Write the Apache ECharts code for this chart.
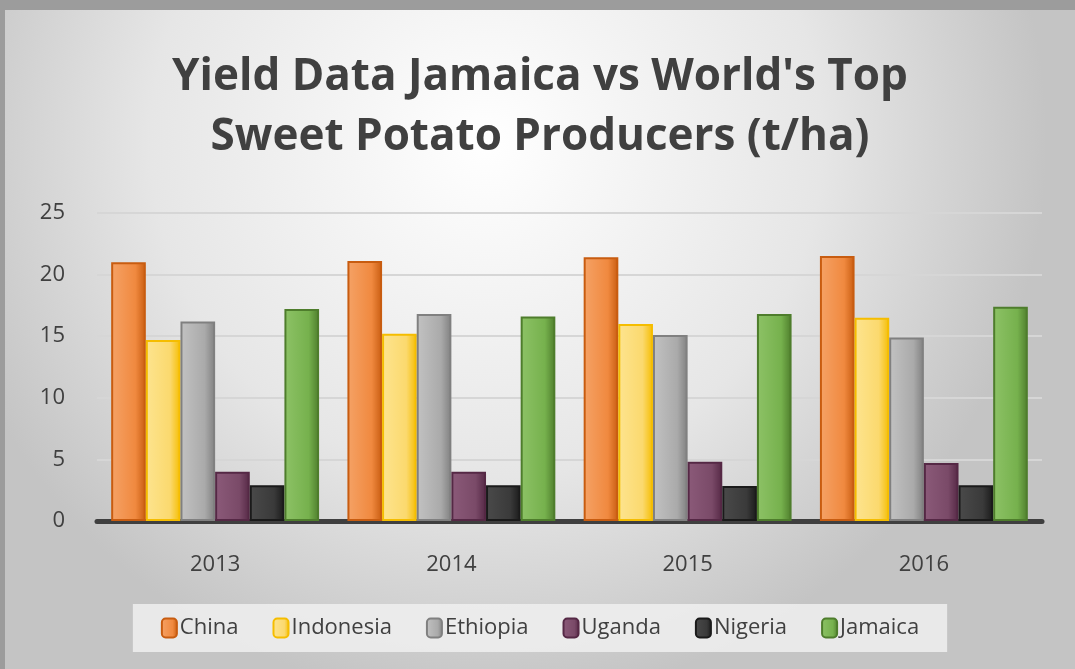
<!DOCTYPE html>
<html>
<head>
<meta charset="utf-8">
<script src="https://cdn.jsdelivr.net/npm/echarts@6/dist/echarts.min.js"></script>
<style>
  html, body { margin: 0; padding: 0; background: #9c9c9c; }
  #frame { position: absolute; left: 5px; top: 10px; width: 1070px; height: 659px; }
  #chart { width: 100%; height: 100%; }
</style>
</head>
<body>
<div id="frame"><div id="chart"></div></div>
<script>
const years = ['2013', '2014', '2015', '2016']
const yTicks = [0, 5, 10, 15, 20, 25]

const china = [21.0, 21.1, 21.4, 21.5]
const indonesia = [14.7, 15.2, 16.0, 16.5]
const ethiopia = [16.2, 16.8, 15.1, 14.9]
const uganda = [4.0, 4.0, 4.8, 4.7]
const nigeria = [2.9, 2.9, 2.85, 2.9]
const jamaica = [17.2, 16.6, 16.8, 17.4]

const seriesList = [
  { name: 'China', data: china, color: '#f0893f', light: '#f5a266', border: '#c85c10' },
  { name: 'Indonesia', data: indonesia, color: '#fbd96e', light: '#fde48f', border: '#f5bd00' },
  { name: 'Ethiopia', data: ethiopia, color: '#aaaaaa', light: '#c2c2c2', border: '#808080' },
  { name: 'Uganda', data: uganda, color: '#7a4a68', light: '#8b5a79', border: '#552845' },
  { name: 'Nigeria', data: nigeria, color: '#3a3a3a', light: '#4a4a4a', border: '#1a1a1a' },
  { name: 'Jamaica', data: jamaica, color: '#76b14d', light: '#8dc266', border: '#4e7d2c' },
]

const chart = echarts.init(document.getElementById('chart'))

chart.setOption({
  backgroundColor: {
    type: 'radial', x: 0.45, y: 0.2, r: 0.85,
    colorStops: [
      { offset: 0, color: '#ffffff' },
      { offset: 0.6, color: '#e6e6e6' },
      { offset: 1, color: '#c4c4c4' },
    ],
  },
  title: {
    text: "Yield Data Jamaica vs World's Top\nSweet Potato Producers (t/ha)",
    left: 'center',
    top: 32,
    textStyle: {
      fontFamily: 'Open Sans',
      fontWeight: 'bold',
      fontSize: 44,
      lineHeight: 60,
      color: '#404040',
    },
  },
  legend: {
    data: seriesList.map(s => s.name),
    bottom: 17,
    left: 'center',
    padding: [13, 28],
    backgroundColor: 'rgba(240,240,240,0.85)',
    itemWidth: 15,
    itemHeight: 19,
    itemGap: 34,
    textStyle: { fontFamily: 'Open Sans', fontSize: 22, color: '#404040', padding: [0, 0, 0, -2] },
  },
  grid: { left: 92, right: 33, top: 203, bottom: 148 },
  xAxis: {
    type: 'category',
    data: years,
    axisTick: { show: false },
    axisLine: { lineStyle: { color: '#3f3f3f', width: 5 } },
    axisLabel: { fontFamily: 'Open Sans', fontSize: 22, color: '#404040', margin: 33 },
  },
  yAxis: {
    type: 'value',
    min: yTicks[0],
    max: yTicks[yTicks.length - 1],
    interval: 5,
    axisLabel: { fontFamily: 'Open Sans', fontSize: 22, color: '#404040', margin: 32 },
    splitLine: { lineStyle: { color: '#d6d6d6', width: 2 } },
  },
  series: seriesList.map(s => ({
    name: s.name,
    type: 'bar',
    data: s.data,
    barGap: '0%',
    barCategoryGap: '12%',
    itemStyle: {
      color: {
        type: 'linear', x: 0, y: 0, x2: 1, y2: 0,
        colorStops: [
          { offset: 0, color: s.light },
          { offset: 0.7, color: s.color },
          { offset: 1, color: s.border },
        ],
      },
      borderColor: s.border,
      borderWidth: 2,
    },
  })),
  color: seriesList.map(s => s.color),
})
</script>
</body>
</html>
